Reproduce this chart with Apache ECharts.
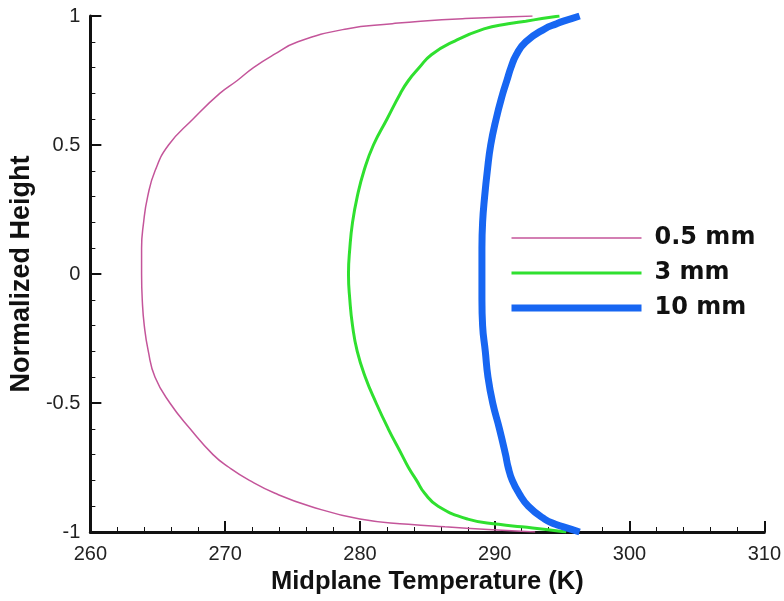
<!DOCTYPE html>
<html>
<head>
<meta charset="utf-8">
<script src="https://cdn.jsdelivr.net/npm/echarts@6/dist/echarts.min.js"></script>
<style>
html,body{margin:0;padding:0;background:#fff;}
#chart{width:784px;height:601px;}
</style>
</head>
<body>
<div id="chart"></div>
<script>
// Normalized height values (shared by all series)
const heights = [-1, -0.99, -0.98, -0.97, -0.95, -0.9, -0.85, -0.8, -0.75, -0.7, -0.6, -0.5, -0.4, -0.3, -0.2, -0.1, 0,
                 0.1, 0.2, 0.3, 0.4, 0.5, 0.6, 0.7, 0.75, 0.8, 0.85, 0.9, 0.95, 0.97, 0.98, 0.99, 1];
// Midplane temperature (K) for each thickness
const temp05mm = [293.0, 289.5, 286.3, 283.6, 280.0, 276.3, 273.7, 271.8, 270.3, 269.1, 267.4, 265.9, 264.8, 264.3, 264.0, 263.85, 263.8,
                  263.8, 263.95, 264.25, 264.8, 265.8, 267.6, 269.6, 270.9, 272.1, 273.6, 275.4, 279.0, 282.4, 284.5, 287.8, 292.8];
const temp3mm  = [295.3, 293.8, 292.0, 290.3, 288.0, 285.8, 284.8, 284.2, 283.6, 283.1, 282.1, 281.2, 280.4, 279.8, 279.45, 279.25, 279.15,
                  279.25, 279.45, 279.8, 280.3, 281.0, 282.0, 283.0, 283.6, 284.4, 285.3, 286.9, 289.2, 291.0, 292.3, 293.5, 294.8];
const temp10mm = [296.3, 295.7, 295.1, 294.5, 293.7, 292.5, 291.8, 291.3, 291.0, 290.8, 290.35, 289.85, 289.5, 289.3, 289.1, 289.05, 289.05,
                  289.05, 289.1, 289.25, 289.45, 289.7, 290.1, 290.6, 290.9, 291.2, 291.6, 292.3, 293.7, 294.6, 295.1, 295.7, 296.3];
const seriesNames = ['0.5 mm', '3 mm', '10 mm'];
const xTicks = [260, 270, 280, 290, 300, 310];
const yTicks = [-1, -0.5, 0, 0.5, 1];

const colors = ['#c4559a', '#2fe02f', '#1766f2'];
const widths = [1.5, 3, 7];

const pair = arr => arr.map((t, i) => [t, heights[i]]);
const FONT = '"Liberation Sans", Arial, Helvetica, sans-serif';

const chart = echarts.init(document.getElementById('chart'), null, {renderer: 'canvas'});
chart.setOption({
  animation: false,
  backgroundColor: '#ffffff',
  grid: {left: 88, right: 17, top: 16, bottom: 69, containLabel: false},
  legend: {
    orient: 'vertical',
    left: 503,
    top: 220,
    itemWidth: 130,
    itemHeight: 14,
    itemGap: 9,
    data: seriesNames.map((n, i) => ({
      name: n,
      lineStyle: {width: widths[i], color: colors[i]},
      itemStyle: {opacity: 0}
    })),
    textStyle: {fontFamily: '"DejaVu Sans", sans-serif', fontSize: 24, fontWeight: 'bold', color: '#111', padding: [0, 0, 0, 8], lineHeight: 26}
  },
  xAxis: {
    type: 'value',
    min: xTicks[0], max: xTicks[xTicks.length - 1], interval: 10,
    name: 'Midplane Temperature (K)',
    nameLocation: 'middle', nameGap: 37,
    nameTextStyle: {fontFamily: FONT, fontSize: 25.5, fontWeight: 'bold', color: '#111'},
    axisLine: {show: true, onZero: false, lineStyle: {color: '#111', width: 3}},
    axisTick: {show: true, inside: true, length: 11, lineStyle: {color: '#111', width: 2}},
    minorTick: {show: true, splitNumber: 5, length: 5, lineStyle: {color: '#111', width: 1}},
    axisLabel: {fontFamily: FONT, fontSize: 20, color: '#222', margin: 12},
    splitLine: {show: false}
  },
  yAxis: {
    type: 'value',
    min: yTicks[0], max: yTicks[yTicks.length - 1], interval: 0.5,
    name: 'Normalized Height',
    nameLocation: 'middle', nameGap: 46, nameRotate: 90,
    nameTextStyle: {fontFamily: FONT, fontSize: 27, fontWeight: 'bold', color: '#111'},
    axisLine: {show: true, onZero: false, lineStyle: {color: '#111', width: 3}},
    axisTick: {show: true, inside: true, length: 11, lineStyle: {color: '#111', width: 2}},
    minorTick: {show: true, splitNumber: 5, length: 5, lineStyle: {color: '#111', width: 1}},
    axisLabel: {fontFamily: FONT, fontSize: 20, color: '#222', margin: 10},
    splitLine: {show: false}
  },
  series: [temp05mm, temp3mm, temp10mm].map((arr, i) => ({
    name: seriesNames[i], type: 'line', data: pair(arr), symbol: 'none',
    smooth: 0.5,
    lineStyle: {color: colors[i], width: widths[i]}, itemStyle: {color: colors[i]}
  }))
});
</script>
</body>
</html>
